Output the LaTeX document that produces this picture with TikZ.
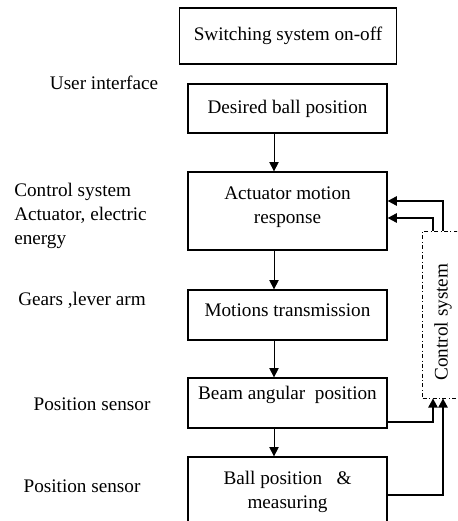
\documentclass[tikz,border=0pt]{standalone}
\usepackage{fontspec}
\setmainfont{Liberation Serif}
\usetikzlibrary{arrows.meta}
\begin{document}
\begin{tikzpicture}[x = 0.75pt, y = -0.75pt, font = \fontsize{14.4}{18}\selectfont,
		blk/.style = {draw, line width = 0.9pt, minimum width = 149.25pt, align = center, inner sep = 0pt},
		lbl/.style = {align = left, inner sep = 0pt},
		tip/.style = {-{Triangle[length = 7pt, width = 7pt]}},
		fb/.style = {tip, line width = 1.5pt}]
	\clip (0, 0) rectangle (457, 521);
	% boxes
	\node[blk, minimum width = 162.75pt, minimum height = 42pt] (onoff) at (288, 36) {Switching system on-off};
	\node[blk, minimum height = 36.75pt] (desired) at (287.5, 108.5) {Desired ball position};
	\node[blk, minimum height = 58.5pt] (actuator) at (287.5, 211) {Actuator motion\\response\\[-9pt]};
	\node[blk, minimum height = 37.5pt] (motions) at (287.5, 315) {Motions transmission\\[-10.5pt]};
	\node[blk, minimum height = 37.5pt] (beam) at (287.5, 403) {Beam angular\ \ position\\[-3pt]};
	\node[blk, minimum height = 52.5pt] (ball) at (287.5, 492) {Ball position \ \ \&\\measuring};
	\node[draw, dash dot, line width = 0.6pt, minimum width = 80pt, minimum height = 125.25pt, inner sep = 0pt] (ctrl) at (476, 314.5) {};
	\node[rotate = 90] (ctrltxt) at (443, 322) {Control system};
	% labels on the left
	\node[lbl] (ui) at (104, 83) {User interface};
	\node[lbl, anchor = west] (cs) at (14, 216) {Control system\\Actuator, electric\\energy};
	\node[lbl] (gears) at (82, 300) {Gears ,lever arm};
	\node[lbl] (ps1) at (92, 404) {Position sensor};
	\node[lbl] (ps2) at (82, 486) {Position sensor};
	% forward path
	\coordinate (ax) at (274, 0);
	\draw[tip, line width = 0.6pt] (desired.south -| ax) -- (actuator.north -| ax);
	\draw[tip, line width = 0.6pt] (actuator.south -| ax) -- (motions.north -| ax);
	\draw[tip, line width = 0.6pt] (motions.south -| ax) -- (beam.north -| ax);
	\draw[tip, line width = 0.6pt] (beam.south -| ax) -- (ball.north -| ax);
	% feedback
	\coordinate (fa) at (443, 0);
	\coordinate (fbx) at (433, 0);
	\draw[fb] (ctrl.north -| fa) |- (actuator.east |- 0, 201);
	\draw[fb] (ctrl.north -| fbx) |- (actuator.east |- 0, 218);
	\draw[fb] (beam.east |- 0, 422) -| (ctrl.south -| fbx);
	\draw[fb] (ball.east |- 0, 495) -| (ctrl.south -| fa);
\end{tikzpicture}
\end{document}
